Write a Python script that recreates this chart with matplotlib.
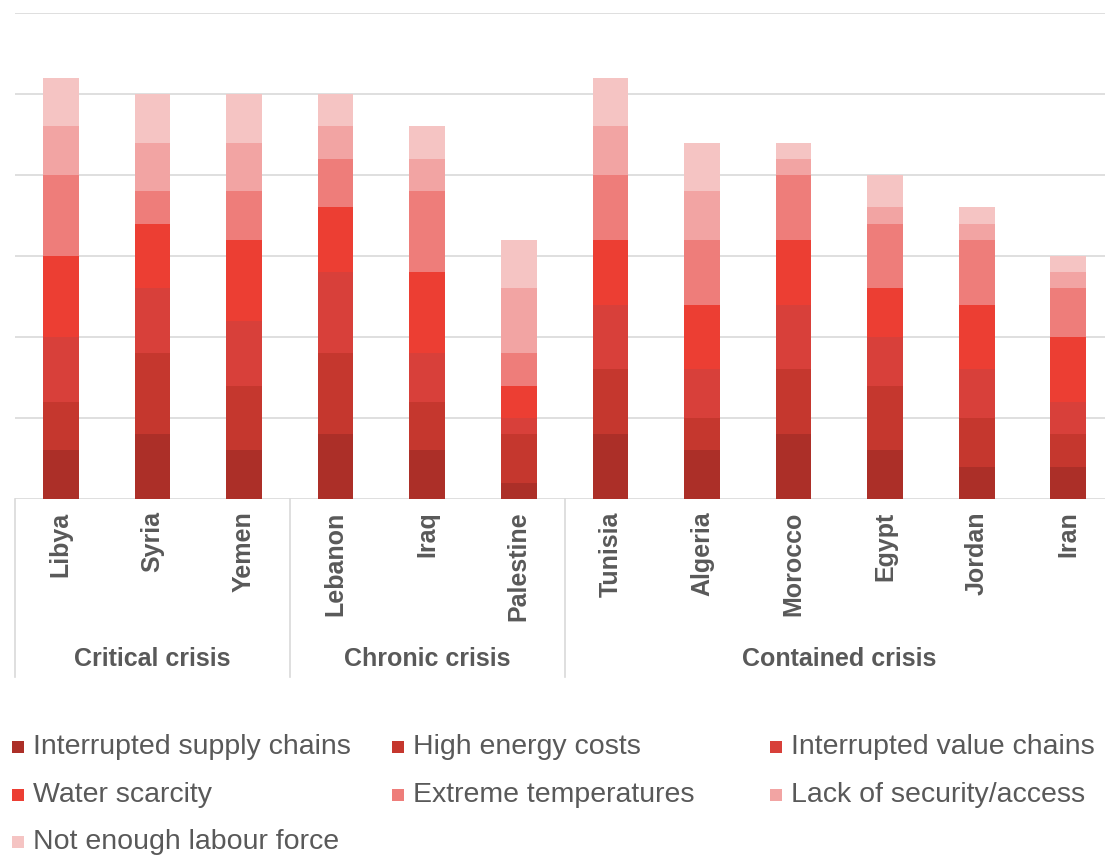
import matplotlib
matplotlib.use("Agg")
import matplotlib.pyplot as plt
import matplotlib.transforms as mtransforms
from matplotlib.patches import Rectangle
import numpy as np

plt.rcParams['font.family'] = ['Liberation Sans', 'DejaVu Sans']

countries = ["Libya", "Syria", "Yemen", "Lebanon", "Iraq", "Palestine",
             "Tunisia", "Algeria", "Morocco", "Egypt", "Jordan", "Iran"]
groups = ["Critical crisis", "Chronic crisis", "Contained crisis"]
group_sizes = [3, 3, 6]

series_names = ["Interrupted supply chains", "High energy costs", "Interrupted value chains",
                "Water scarcity", "Extreme temperatures", "Lack of security/access",
                "Not enough labour force"]

# one list per series, in country order
supply_chains = [3, 4, 3, 4, 3, 1, 4, 3, 4, 3, 2, 2]
energy_costs = [3, 5, 4, 5, 3, 3, 4, 2, 4, 4, 3, 2]
value_chains = [4, 4, 4, 5, 3, 1, 4, 3, 4, 3, 3, 2]
water_scarcity = [5, 4, 5, 4, 5, 2, 4, 4, 4, 3, 4, 4]
extreme_temps = [5, 2, 3, 3, 5, 2, 4, 4, 4, 4, 4, 3]
security_access = [3, 3, 3, 2, 2, 4, 3, 3, 1, 1, 1, 1]
labour_force = [3, 3, 3, 2, 2, 3, 3, 3, 1, 2, 1, 1]

series = [supply_chains, energy_costs, value_chains, water_scarcity,
          extreme_temps, security_access, labour_force]
colors = ["#AC2F28", "#C5372E", "#D8403A", "#EC3E33",
          "#EE7D7A", "#F2A4A3", "#F5C4C3"]

text_grey = "#595959"
line_grey = "#D9D9D9"

W, H = 1105, 857
fig = plt.figure(figsize=(W / 100, H / 100), dpi=100)
ax = fig.add_axes([15 / W, 1 - 499 / H, 1090 / W, 486 / H])

x = np.arange(len(countries))
bottom = np.zeros(len(countries))
for vals, col, name in zip(series, colors, series_names):
    ax.bar(x, vals, width=0.39, bottom=bottom, color=col, label=name, zorder=3)
    bottom += np.array(vals)

ax.set_xlim(-0.5, 11.4)
ax.set_ylim(0, 30)
ax.set_yticks(np.arange(5, 31, 5))
ax.yaxis.grid(True, color=line_grey, linewidth=1.2)
ax.set_axisbelow(True)
ax.tick_params(axis='y', length=0, labelleft=False)
for s in ax.spines.values():
    s.set_visible(False)
ax.axhline(0, color=line_grey, linewidth=1.2, zorder=2)

ax.set_xticks(x)
ax.set_xticklabels(countries, rotation=90, fontsize=18, fontweight='bold', color=text_grey)
ax.tick_params(axis='x', length=0, pad=9)

# group separators and group titles below the country names
trans = mtransforms.blended_transform_factory(ax.transData, ax.transAxes)
edge = -0.5
for name, n in zip(groups, group_sizes):
    ax.plot([edge, edge], [0, -0.366], transform=trans, color=line_grey,
            linewidth=1.2, clip_on=False)
    ax.text(edge + n / 2, -0.33, name, transform=trans, ha='center', va='center',
            fontsize=18, fontweight='bold', color=text_grey)
    edge += n
ax.plot([edge, edge], [0, -0.366], transform=trans, color=line_grey,
        linewidth=1.2, clip_on=False)

# legend laid out in three columns
col_x = [12, 392, 770]
row_y = [747, 795, 842]
for i, (name, col) in enumerate(zip(series_names, colors)):
    cx = col_x[i % 3]
    cy = row_y[i // 3]
    fig.patches.append(Rectangle((cx / W, 1 - (cy + 6) / H), 12 / W, 12 / H,
                                 transform=fig.transFigure, facecolor=col,
                                 edgecolor='none'))
    fig.text((cx + 21) / W, 1 - cy / H, name, ha='left', va='center',
             fontsize=20.5, color=text_grey)

fig.savefig("out.png", dpi=100)
